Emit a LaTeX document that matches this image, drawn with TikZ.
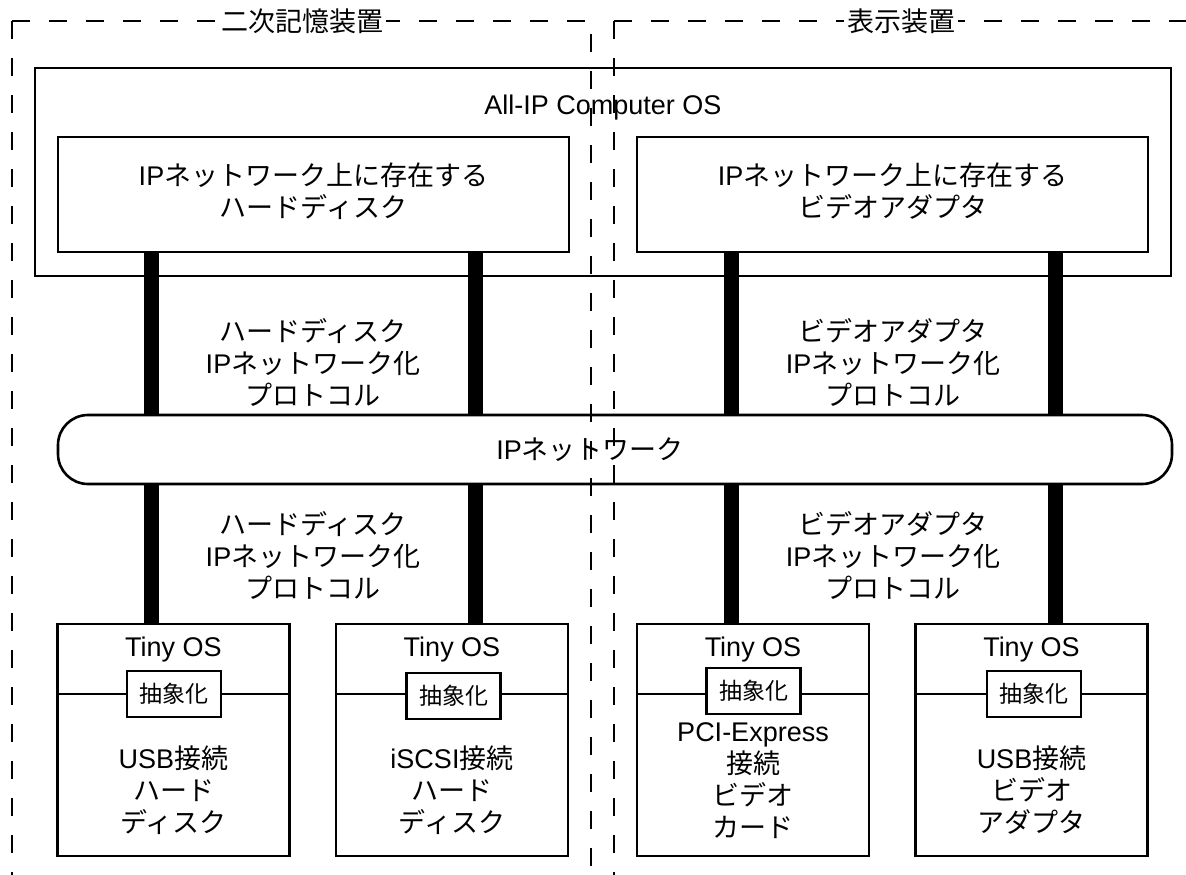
\documentclass[tikz,border=0pt]{standalone}
\usepackage{fontspec}
\setmainfont{Liberation Sans}
\newfontfamily\jp{Noto Sans CJK JP}
\usetikzlibrary{calc}
\newcommand\fsz{\fontsize{27}{32}\selectfont}
\newcommand\fss{\fontsize{23}{28}\selectfont}
\tikzset{
  every node/.style={font=\fsz, inner sep=0pt},
  boxline/.style={draw, line width=2.6pt},
  dashline/.style={line width=2.6pt, dash pattern=on 18pt off 19pt},
  bar/.style={line width=15pt},
  lbl/.style={align=center},
  title/.style={fill=white, inner sep=3pt},
  absbox/.style={draw, line width=2.6pt, fill=white, minimum width=94pt, minimum height=46pt, font=\fss},
  tinybox/.style={draw, line width=2.6pt, minimum width=232pt, minimum height=232pt},
}
\begin{document}
\begin{tikzpicture}[x=1pt,y=-1pt]
\useasboundingbox (0,0) rectangle (1186,875);
% dashed groups
\coordinate (gLtl) at (12,21);
\coordinate (gLbl) at (12,875);
\coordinate (gLtr) at (591,21);
\coordinate (gLbr) at (591,875);
\coordinate (gRtl) at (614,21);
\coordinate (gRbl) at (614,875);
\coordinate (gRtr) at (1186,21);
\draw[dashline] (gLtl) -- (gLbl);
\draw[dashline] (gLtl) -- (gLtr) -- (gLbr);
\draw[dashline] (gRtl) -- (gRbl);
\draw[dashline] (gRtl) -- (gRtr);
\node[title] (tL) at (302,21) {\jp 二次記憶装置};
\node[title] (tR) at (901,21) {\jp 表示装置};
% OS box
\node[boxline, minimum width=1136pt, minimum height=208pt] (os) at (603,172) {};
\node (ostext) at (603,108) {All-IP Computer OS};
\node[boxline, minimum width=511pt, minimum height=115pt] (hd) at (313.5,194.5) {};
\node[lbl] (hdtext) at (313.5,191) {IP{\jp ネットワーク上に存在する}\\{\jp ハードディスク}};
\node[boxline, minimum width=511pt, minimum height=115pt] (va) at (892.5,194.5) {};
\node[lbl] (vatext) at (892.5,191) {IP{\jp ネットワーク上に存在する}\\{\jp ビデオアダプタ}};
% network
\node[boxline, rounded corners=30pt, minimum width=1114pt, minimum height=69pt] (net) at (615,449.5) {};
\node (nettext) at (590,450) {IP{\jp ネットワーク}};
% tiny OS boxes
\node[tinybox] (t1) at (173.5,740) {};
\node[tinybox] (t2) at (452,740) {};
\node[tinybox] (t3) at (753,740) {};
\node[tinybox] (t4) at (1031.5,740) {};
\foreach \t in {t1,t2,t3,t4}{
  \draw[line width=2.6pt] (\t.west |- 0,694) -- (\t.east |- 0,694);
}
\node[absbox] (a1) at (174,694) {\jp 抽象化};
\node[absbox] (a2) at (453.5,696) {\jp 抽象化};
\node[absbox] (a3) at (753.5,691) {\jp 抽象化};
\node[absbox] (a4) at (1034,694) {\jp 抽象化};
\node (o1) at (173.5,650) {Tiny OS};
\node (o2) at (452,650) {Tiny OS};
\node (o3) at (753,650) {Tiny OS};
\node (o4) at (1031.5,650) {Tiny OS};
\node[lbl] (d1) at (173.5,790) {USB{\jp 接続}\\{\jp ハード}\\{\jp ディスク}};
\node[lbl] (d2) at (452,790) {iSCSI{\jp 接続}\\{\jp ハード}\\{\jp ディスク}};
\node[lbl] (d3) at (753,781) {PCI-Express\\{\jp 接続}\\{\jp ビデオ}\\{\jp カード}};
\node[lbl] (d4) at (1031.5,790) {USB{\jp 接続}\\{\jp ビデオ}\\{\jp アダプタ}};
% bars
\coordinate (x1) at (151,0);
\coordinate (x2) at (475,0);
\coordinate (x3) at (731,0);
\coordinate (x4) at (1055,0);
\draw[bar] (x1 |- hd.south) -- (x1 |- net.north);
\draw[bar] (x2 |- hd.south) -- (x2 |- net.north);
\draw[bar] (x3 |- va.south) -- (x3 |- net.north);
\draw[bar] (x4 |- va.south) -- (x4 |- net.north);
\draw[bar] (x1 |- net.south) -- (x1 |- t1.north);
\draw[bar] (x2 |- net.south) -- (x2 |- t2.north);
\draw[bar] (x3 |- net.south) -- (x3 |- t3.north);
\draw[bar] (x4 |- net.south) -- (x4 |- t4.north);
% protocol labels
\node[lbl] (p1) at (313,362) {{\jp ハードディスク}\\IP{\jp ネットワーク化}\\{\jp プロトコル}};
\node[lbl] (p2) at (893,362) {{\jp ビデオアダプタ}\\IP{\jp ネットワーク化}\\{\jp プロトコル}};
\node[lbl] (p3) at (313,555) {{\jp ハードディスク}\\IP{\jp ネットワーク化}\\{\jp プロトコル}};
\node[lbl] (p4) at (893,555) {{\jp ビデオアダプタ}\\IP{\jp ネットワーク化}\\{\jp プロトコル}};
\end{tikzpicture}
\end{document}
